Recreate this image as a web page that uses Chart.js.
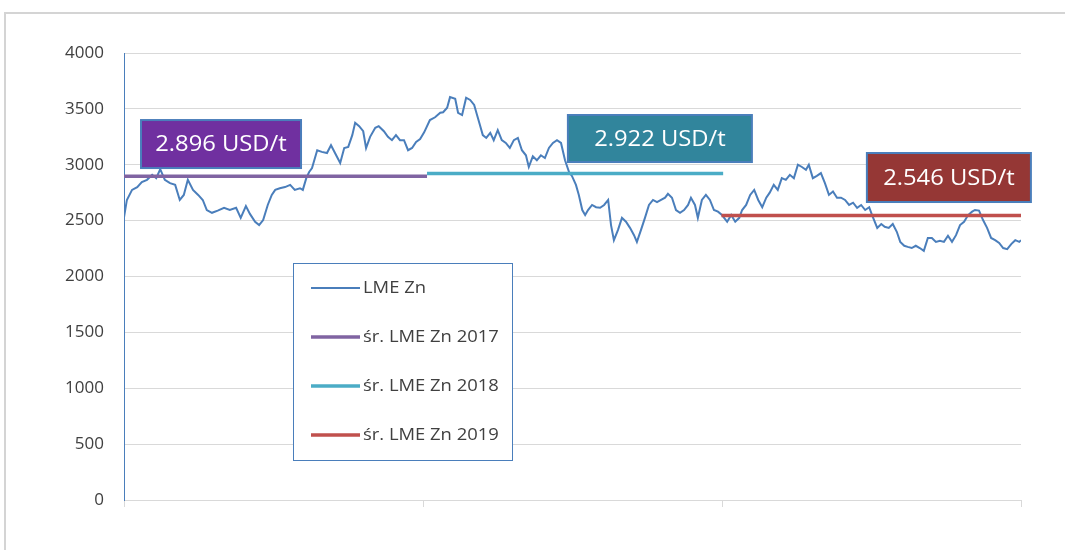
<!DOCTYPE html>
<html>
<head>
<meta charset="utf-8">
<script src="https://cdn.jsdelivr.net/npm/chart.js@4.4.1/dist/chart.umd.min.js"></script>
<style>
  html, body { margin: 0; padding: 0; background: #fff; }
  #wrap { width: 1065px; height: 550px; }
</style>
</head>
<body>
<div id="wrap"><canvas id="lineChart" width="1065" height="550"></canvas></div>
<script>
// LME zinc, USD/t (x = week since 1 Jan 2017)
const weeks = [
  0.0, 0.5, 1.4, 2.3, 3.1, 4.0, 4.9, 5.6, 6.3, 7.1, 8.0, 8.9, 9.7, 10.4, 11.1, 12.0, 12.9, 13.7, 14.4, 15.3,
  16.3, 17.4, 18.4, 19.5, 20.3, 21.2, 21.9, 22.8, 23.5, 24.2, 25.0, 25.7,
  26.3, 27.1, 28.0, 28.9, 29.7, 30.6, 31.1, 31.7, 32.2, 32.7, 33.6, 34.4, 35.3, 36.0, 36.9, 37.6, 38.3, 39.0,
  39.7, 40.2, 40.9, 41.6, 42.1, 42.8, 43.7, 44.3, 45.2, 45.9, 46.6, 47.3, 48.0, 48.7, 49.4, 50.1, 50.8, 51.5, 52.2,
  53.2, 54.1, 55.0, 55.5, 56.2, 56.7, 57.6, 58.1, 58.8, 59.5, 60.2, 60.9, 61.4, 61.9, 62.4, 63.0, 63.7, 64.3,
  65.0, 65.7, 66.4, 67.1, 67.8, 68.5, 69.2, 69.9, 70.4, 71.1, 71.8, 72.5, 73.2, 73.9, 74.6, 75.3, 76.0, 76.7,
  77.4, 77.9,
  78.6, 79.1, 79.7, 80.2, 80.7, 81.4, 82.1, 82.8, 83.5, 84.2, 84.7, 85.2, 85.9, 86.6, 87.3, 88.0, 88.7, 89.2,
  89.9, 90.6, 91.3, 92.0, 92.7, 93.4, 94.1, 94.6, 95.3, 96.0, 96.7, 97.4, 98.1, 98.6, 99.3, 99.8, 100.5, 101.2,
  101.9, 102.6, 103.3, 104.0,
  104.9, 105.6, 106.3, 107.0, 107.5, 108.2, 108.9, 109.6, 110.3, 111.0, 111.7, 112.3, 113.0, 113.7, 114.4, 115.1,
  115.8, 116.5, 117.2, 117.9, 118.6, 119.1, 119.8, 120.5, 121.2, 121.9, 122.6, 123.3, 124.0, 124.7, 125.4, 126.1,
  126.8, 127.5, 128.2, 128.9, 129.6, 130.1,
  131.0, 131.7, 132.3, 133.0, 133.7, 134.4, 135.0, 135.7, 136.3, 137.0, 137.7, 138.4, 139.1, 139.8, 140.5, 141.2,
  141.9, 142.6, 143.3, 144.0, 144.7, 145.4, 146.1, 146.8, 147.5, 148.0, 148.7, 149.4, 150.1, 150.8, 151.5, 152.2,
  152.9, 153.6, 154.3, 155.0, 155.7, 156.0
];
const znPrices = [
  2530, 2685, 2775, 2800, 2845, 2865, 2910, 2880, 2960, 2865, 2835, 2820, 2685, 2730, 2865, 2775, 2730, 2685, 2595, 2570,
  2590, 2615, 2595, 2615, 2525, 2630, 2560, 2490, 2460, 2505, 2640, 2730,
  2775, 2790, 2800, 2820, 2775, 2790, 2775, 2880, 2935, 2970, 3130, 3115, 3105, 3175, 3085, 3015, 3150, 3160,
  3265, 3375, 3345, 3300, 3150, 3250, 3330, 3345, 3300, 3250, 3220, 3265, 3220, 3220, 3130, 3150, 3205, 3230, 3290,
  3400, 3425, 3465, 3470, 3510, 3605, 3590, 3465, 3445, 3600, 3580, 3535, 3445, 3355, 3265, 3240, 3285, 3220,
  3310, 3220, 3195, 3150, 3220, 3240, 3130, 3085, 2980, 3075, 3040, 3085, 3060, 3150, 3195, 3220, 3195, 3040,
  2935, 2900,
  2820, 2730, 2595, 2550, 2595, 2640, 2620, 2615, 2640, 2685, 2460, 2325, 2415, 2525, 2490, 2435, 2370, 2310,
  2415, 2525, 2640, 2685, 2665, 2685, 2705, 2740, 2705, 2595, 2570, 2595, 2640, 2705, 2640, 2525, 2685, 2730,
  2685, 2595, 2580, 2550,
  2490, 2550, 2490, 2525, 2595, 2640, 2730, 2775, 2685, 2620, 2705, 2750, 2820, 2775, 2880, 2865,
  2910, 2880, 3000, 2980, 2955, 3000, 2880, 2900, 2925, 2835, 2730, 2760, 2705, 2705, 2685, 2640,
  2660, 2615, 2640, 2595, 2620, 2550,
  2435, 2470, 2445, 2435, 2470, 2400, 2310, 2275, 2265, 2255, 2275, 2255, 2230, 2345, 2345, 2310,
  2320, 2310, 2365, 2310, 2370, 2460, 2490, 2550, 2580, 2595, 2590, 2505, 2435, 2345, 2325, 2300,
  2255, 2245, 2290, 2325, 2310, 2325
];

// yearly averages
const avgLabels = ['śr. LME Zn 2017', 'śr. LME Zn 2018', 'śr. LME Zn 2019'];
const avgValues = [2896, 2922, 2546];
const avgFromWeek = [0, 52.7, 103.9];
const avgToWeek = [52.7, 104.2, 156];
const avgTexts = ['2.896 USD/t', '2.922 USD/t', '2.546 USD/t'];

const avgColors = ['#8064A2', '#4BACC6', '#C0504D'];
const boxFills = ['#7030A0', '#31859C', '#953735'];
// where each value box sits (top-left in axis units) and its size in px
const boxAnchors = [
  { week: 2.96, price: 3400, w: 160, h: 48 },
  { week: 77.2, price: 3445, w: 184, h: 47 },
  { week: 129.2, price: 3105, w: 164, h: 49 }
];

const datasets = [{
  label: 'LME Zn',
  data: weeks.map((w, i) => ({ x: w, y: znPrices[i] })),
  borderColor: '#4A7EBB',
  borderWidth: 2,
  pointRadius: 0,
  tension: 0,
  order: 1
}];
avgValues.forEach((v, i) => {
  datasets.push({
    label: avgLabels[i],
    data: [{ x: avgFromWeek[i], y: v }, { x: avgToWeek[i], y: v }],
    borderColor: avgColors[i],
    borderWidth: 3.5,
    pointRadius: 0,
    order: 0
  });
});

// stretch text a little sideways, the original font is wide
function wideText(ctx, text, x, y, sx) {
  ctx.save();
  ctx.translate(x, y);
  ctx.scale(sx, 1);
  ctx.fillText(text, 0, 0);
  ctx.restore();
}

const extras = {
  id: 'extras',
  beforeDraw(chart) {
    const c = chart.ctx;
    c.save();
    c.strokeStyle = '#D4D4D4';
    c.lineWidth = 2;
    c.strokeRect(5, 13, 1200, 1000);
    c.restore();
  },
  afterDatasetsDraw(chart) {
    const c = chart.ctx;
    const xs = chart.scales.x, ys = chart.scales.y;
    const area = chart.chartArea;

    // value boxes
    boxAnchors.forEach((b, i) => {
      const left = xs.getPixelForValue(b.week);
      const top = ys.getPixelForValue(b.price);
      c.save();
      c.fillStyle = boxFills[i];
      c.fillRect(left, top, b.w, b.h);
      c.strokeStyle = '#4A7EBB';
      c.lineWidth = 2;
      c.strokeRect(left, top, b.w, b.h);
      c.fillStyle = '#FFFFFF';
      c.font = '22px "Open Sans"';
      c.textAlign = 'left';
      c.textBaseline = 'middle';
      const tw = c.measureText(avgTexts[i]).width * 1.08;
      wideText(c, avgTexts[i], left + (b.w - tw) / 2, top + b.h / 2 + 1, 1.08);
      c.restore();
    });

    // legend box
    const lx = area.left + 169, ly = area.top + 210, lw = 219, lh = 197;
    c.save();
    c.fillStyle = '#FFFFFF';
    c.fillRect(lx, ly, lw, lh);
    c.strokeStyle = '#4A7EBB';
    c.lineWidth = 1;
    c.strokeRect(lx + 0.5, ly + 0.5, lw, lh);
    c.font = '16px "Open Sans"';
    c.textBaseline = 'middle';
    c.fillStyle = '#404040';
    chart.data.datasets.forEach((ds, i) => {
      const ry = ly + 25 + i * 49;
      c.strokeStyle = ds.borderColor;
      c.lineWidth = i === 0 ? 2 : 3.5;
      c.beginPath();
      c.moveTo(lx + 18, ry);
      c.lineTo(lx + 67, ry);
      c.stroke();
      wideText(c, ds.label, lx + 70, ry, 1.15);
    });
    c.restore();
  }
};

new Chart(document.getElementById('lineChart'), {
  type: 'line',
  data: { datasets: datasets },
  plugins: [extras],
  options: {
    responsive: false,
    animation: false,
    layout: { padding: { top: 53, right: 44, left: 0, bottom: 0 } },
    plugins: {
      legend: { display: false },
      tooltip: { enabled: false }
    },
    scales: {
      x: {
        type: 'linear',
        min: 0,
        max: 156,
        afterBuildTicks: (s) => { s.ticks = [0, 52, 104, 156].map(v => ({ value: v })); },
        ticks: { display: false },
        grid: { drawOnChartArea: false, drawTicks: true, tickLength: 7, color: '#D9D9D9' },
        border: { color: '#D9D9D9' },
        afterFit: (s) => { s.height = 50; }
      },
      y: {
        min: 0,
        max: 4000,
        ticks: {
          stepSize: 500,
          padding: 20,
          color: '#404040',
          font: { family: 'Open Sans', size: 17 },
          callback: (v) => String(v)
        },
        grid: { color: '#D9D9D9', drawTicks: false },
        border: { color: '#4A7EBB' },
        afterFit: (s) => { s.width = 124; }
      }
    }
  }
});
</script>
</body>
</html>
